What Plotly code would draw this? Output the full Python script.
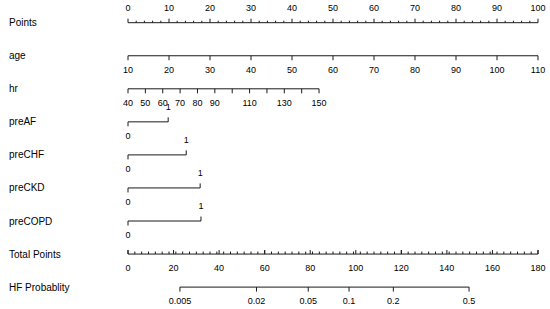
import numpy as np
import plotly.graph_objects as go

# nomogram values
points_major = list(range(0, 101, 10))
points_minor = list(range(0, 101, 2))

age_ticks = [10, 20, 30, 40, 50, 60, 70, 80, 90, 100, 110]
age_pts_per_year = 1.0

hr_ticks = [40, 50, 60, 70, 80, 90, 100, 110, 120, 130, 140, 150]
hr_labels = [40, 50, 60, 70, 80, 90, 110, 130, 150]
hr_pts_per_bpm = 0.4236

binary_vars = ["preAF", "preCHF", "preCKD", "preCOPD"]
binary_pts = [9.8, 14.2, 17.6, 17.8]

total_major = list(range(0, 181, 20))
total_minor = list(range(0, 181, 3))
total_max = 180

prob_ticks = [0.005, 0.02, 0.05, 0.1, 0.2, 0.5]
lp_intercept = -6.244
lp_slope = 0.0417

row_names = ["Points", "age", "hr"] + binary_vars + ["Total Points", "HF Probablity"]

# page geometry
W, H = 550, 309
x0_px, px_per_pt = 128, 4.1
row_y = [22.7 + 33.05 * i for i in range(len(row_names))]  # screen pixels
FONT = "Liberation Sans, Arial, sans-serif"
LC = "#1a1a1a"

fig = go.Figure()


def seg_trace(xs, y, ticks):
    # baseline plus tick marks, positive length means downward on screen
    px, py = [min(xs), max(xs), None], [y, y, None]
    for t, L in ticks:
        px += [t, t, None]
        py += [y, y + L, None]
    fig.add_trace(go.Scatter(x=px, y=py, mode="lines",
                             line=dict(color=LC, width=1), hoverinfo="skip"))


def text_trace(xs, y, labels):
    fig.add_trace(go.Scatter(x=xs, y=[y] * len(xs), mode="text", text=labels,
                             textfont=dict(family=FONT, size=9, color="black"),
                             cliponaxis=False, hoverinfo="skip"))


# Points
y = row_y[0]
ticks = [(p, -4 if p % 10 == 0 else -2) for p in points_minor]
seg_trace(points_minor, y, ticks)
text_trace(points_major, y - 14, [str(p) for p in points_major])

# age
y = row_y[1]
ax = [(a - age_ticks[0]) * age_pts_per_year for a in age_ticks]
seg_trace(ax, y, [(p, 4.5) for p in ax])
text_trace(ax, y + 15, [str(a) for a in age_ticks])

# hr
y = row_y[2]
hx = [(h - hr_ticks[0]) * hr_pts_per_bpm for h in hr_ticks]
seg_trace(hx, y, [(p, 4.5) for p in hx])
text_trace([(h - hr_ticks[0]) * hr_pts_per_bpm for h in hr_labels], y + 15,
           [str(h) for h in hr_labels])

# binary predictors
for i, pts in enumerate(binary_pts):
    y = row_y[3 + i]
    seg_trace([0, pts], y, [(0, 4.5), (pts, -4.5)])
    text_trace([0], y + 15, ["0"])
    text_trace([pts], y - 14, ["1"])

# Total Points (scaled onto the 0-100 points axis)
k = 100 / total_max
y = row_y[7]
ticks = [(t * k, -4 if t % 20 == 0 else -2.5) for t in total_minor]
ticks += [(t * k, -4) for t in total_major]
seg_trace([0, total_max * k], y, ticks)
text_trace([t * k for t in total_major], y + 15, [str(t) for t in total_major])

# HF probability
y = row_y[8]
tp = [(np.log(p / (1 - p)) - lp_intercept) / lp_slope * k for p in prob_ticks]
seg_trace(tp, y, [(p, 4.5) for p in tp])
text_trace(tp, y + 15, [str(p) for p in prob_ticks])

# row labels
for name, yy in zip(row_names, row_y):
    fig.add_annotation(x=7 / W, xref="paper", y=yy, yref="y", text=name,
                       showarrow=False, xanchor="left", yanchor="middle",
                       font=dict(family=FONT, size=10, color="black"))

fig.update_layout(
    width=W, height=H, showlegend=False,
    paper_bgcolor="white", plot_bgcolor="white",
    margin=dict(l=0, r=0, t=0, b=0),
    xaxis=dict(range=[-x0_px / px_per_pt, (W - x0_px) / px_per_pt],
               visible=False, fixedrange=True),
    yaxis=dict(range=[H, 0], visible=False, fixedrange=True),
)
# drop the default body margin so the figure fills the window
fig.write_html("out.html", config={"displayModeBar": False},
               post_script="document.body.style.margin='0';")
